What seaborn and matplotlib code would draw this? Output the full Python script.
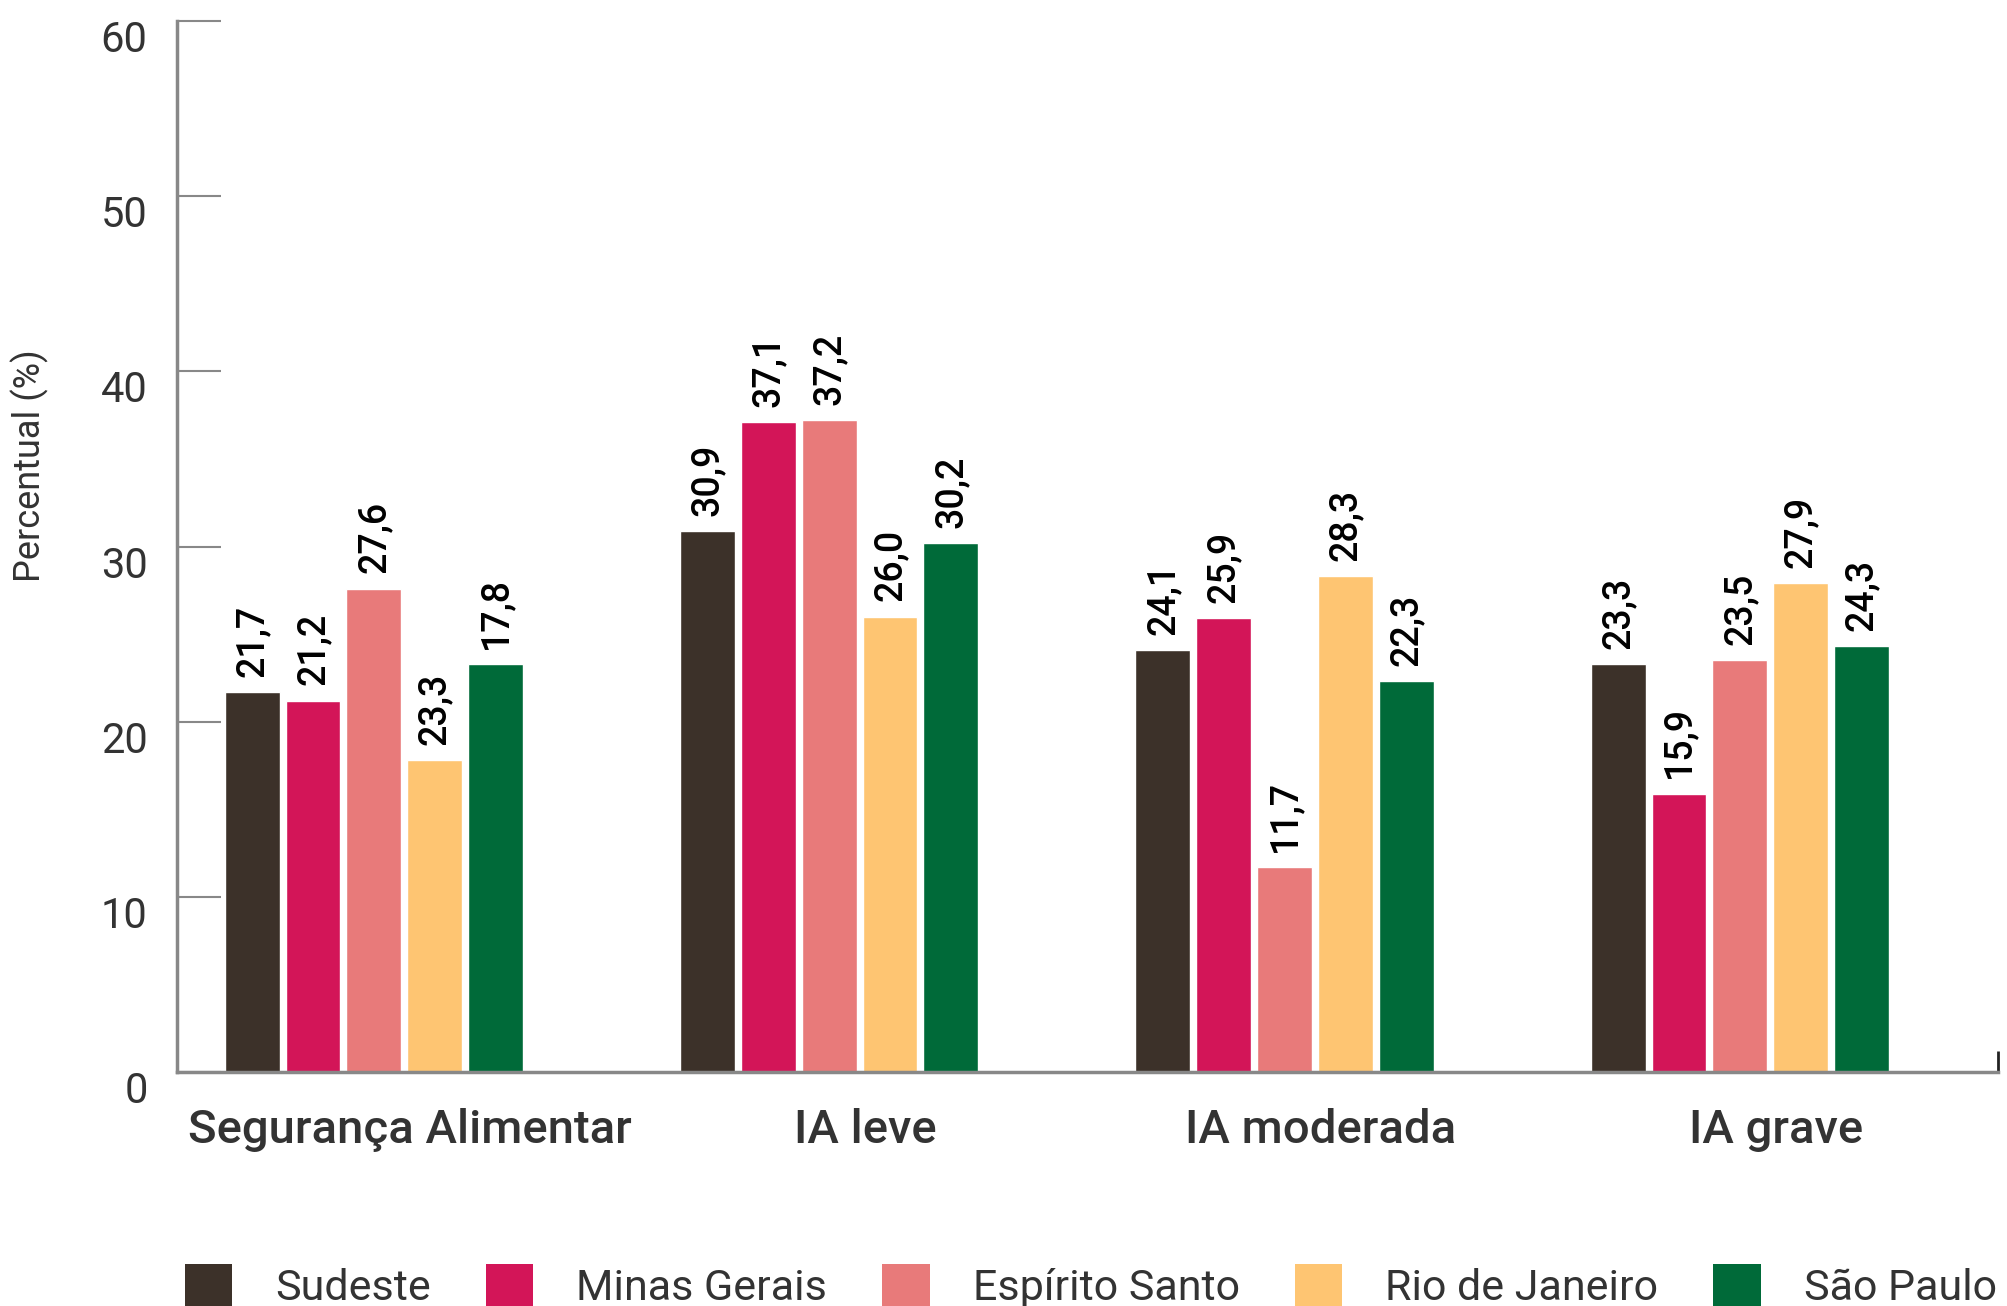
import numpy as np
import pandas as pd
import matplotlib
matplotlib.use("Agg")
import matplotlib.pyplot as plt
import matplotlib.transforms as mtransforms
from matplotlib.patches import Patch
import seaborn as sns

# data
categories = ["Segurança Alimentar", "IA leve", "IA moderada", "IA grave"]
regions = ["Sudeste", "Minas Gerais", "Espírito Santo", "Rio de Janeiro", "São Paulo"]

# bar heights (as drawn)
sudeste = [21.7, 30.9, 24.1, 23.3]
minas = [21.2, 37.1, 25.9, 15.9]
espirito = [27.6, 37.2, 11.7, 23.5]
rio = [17.8, 26.0, 28.3, 27.9]
saopaulo = [23.3, 30.2, 22.3, 24.3]

# printed labels (the reference swaps RJ / SP text in the first group)
lab_sudeste = ["21,7", "30,9", "24,1", "23,3"]
lab_minas = ["21,2", "37,1", "25,9", "15,9"]
lab_espirito = ["27,6", "37,2", "11,7", "23,5"]
lab_rio = ["23,3", "26,0", "28,3", "27,9"]
lab_saopaulo = ["17,8", "30,2", "22,3", "24,3"]

colors = ["#3c3129", "#d31558", "#e87a7a", "#fec572", "#006a39"]

series = [sudeste, minas, espirito, rio, saopaulo]
labels = [lab_sudeste, lab_minas, lab_espirito, lab_rio, lab_saopaulo]

df = pd.DataFrame(
    [(c, r, v) for r, vals in zip(regions, series) for c, v in zip(categories, vals)],
    columns=["categoria", "regiao", "valor"],
)

sns.set_theme(style="white")
plt.rcParams["font.family"] = ["Roboto", "DejaVu Sans"]

fig = plt.figure(figsize=(20.08, 13.06), dpi=100)
ax = fig.add_axes([0.088, 0.179, 0.907, 0.805])

sns.barplot(data=df, x="categoria", y="valor", hue="regiao", order=categories,
            hue_order=regions, palette=colors, width=0.668, gap=0.1,
            saturation=1, ax=ax, legend=False)

for cont, labs in zip(ax.containers, labels):
    ax.bar_label(cont, labels=labs, rotation=90, padding=11, fontsize=27,
                 fontweight="medium", color="black")

ax.set_ylim(0, 60)
ax.set_xlim(-0.433, 3.567)
ax.set_yticks(range(0, 61, 10))
ax.tick_params(axis="y", left=True, direction="in", length=32, width=1.5,
               color="#888888", labelsize=30, labelcolor="#333333", pad=21)
ax.yaxis.get_major_ticks()[-1].tick1line.set_color("black")
offset = mtransforms.ScaledTranslation(0, -15 / 100, fig.dpi_scale_trans)
for lab in ax.get_yticklabels():
    lab.set_transform(lab.get_transform() + offset)

ax.set_xticks(np.arange(len(categories)) + 0.08)
ax.set_xticklabels(categories, fontsize=34, fontweight="medium", color="#333333")
ax.tick_params(axis="x", bottom=False, length=0, pad=26)
ax.set_xticks([3.567], minor=True)
ax.tick_params(axis="x", which="minor", bottom=True, direction="in", length=15,
               width=2, color="#222222")

ax.set_xlabel("")
ax.set_ylabel("Percentual (%)", fontsize=26, color="#333333", labelpad=0)
ax.yaxis.set_label_coords(-0.07, 0.577)

for s in ["top", "right"]:
    ax.spines[s].set_visible(False)
for s in ["left", "bottom"]:
    ax.spines[s].set_color("#888888")
    ax.spines[s].set_linewidth(2.5)

handles = [Patch(facecolor=c, edgecolor="none", label=r) for c, r in zip(colors, regions)]
fig.legend(handles=handles, loc="lower left", bbox_to_anchor=(0.092, -0.002),
           ncol=5, frameon=False, fontsize=31, handlelength=1.1, handleheight=1.1,
           handletextpad=1.0, columnspacing=1.28, borderpad=0, borderaxespad=0,
           labelcolor="#333333")

fig.savefig("out.png", dpi=100)
